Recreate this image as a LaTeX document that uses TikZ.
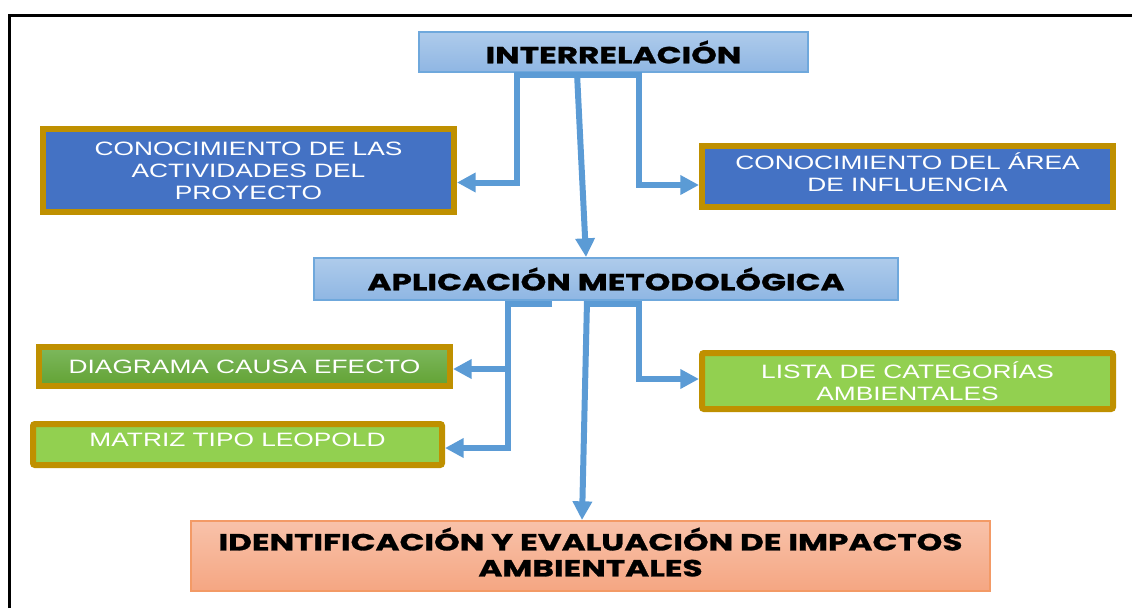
\documentclass[tikz,border=0pt]{standalone}
\usepackage{fontspec}
\usepackage{tikz}
\usepackage{xcolor}
\usetikzlibrary{arrows.meta,calc}

\setmainfont{Liberation Sans}
\newfontfamily\boxfont[FakeStretch=1.36]{Liberation Sans}
\newfontfamily\titlefont[FakeStretch=1.4,FakeBold=1.2]{Poppins}

\definecolor{titletop}{HTML}{AECBEB}
\definecolor{titlebottom}{HTML}{8FB6E3}
\definecolor{titleline}{HTML}{6FA8DC}
\definecolor{boxblue}{HTML}{4472C4}
\definecolor{boxgold}{HTML}{BF9000}
\definecolor{greentop}{HTML}{7DB85E}
\definecolor{greenbottom}{HTML}{62A233}
\definecolor{boxlime}{HTML}{92D050}
\definecolor{salmontop}{HTML}{F8C2AA}
\definecolor{salmonbottom}{HTML}{F5A682}
\definecolor{salmonline}{HTML}{F39A66}
\definecolor{arrowblue}{HTML}{5B9BD5}

\tikzset{
  titlebox/.style={draw=titleline, line width=1.5pt, top color=titletop, bottom color=titlebottom,
    inner sep=0pt, align=center, font=\titlefont\bfseries\fontsize{17.5}{19.5}\selectfont},
  goldbox/.style={draw=boxgold, line width=4.5pt, inner sep=0pt, align=center, text=white,
    font=\boxfont\fontsize{14.5}{16.5}\selectfont},
  conn/.style={draw=arrowblue, line width=4.5pt, -{Triangle[length=14pt,width=14pt]}}
}

\begin{document}
\begin{tikzpicture}[x=0.75pt,y=0.75pt,yscale=-1,xscale=1]
    \useasboundingbox (0,0) rectangle (1132,608);

    %Frame
    \draw[line width=2.25pt] (9,608) -- (9,15) -- (1132,15);

    % Title Node
    \node[titlebox, minimum width=291.75pt, minimum height=30pt] (inter) at (613.5,52) {INTERRELACIÓN};
    % Text Node
    \node[goldbox, fill=boxblue, minimum width=308.25pt, minimum height=62.25pt] (actv) at (248.5,170.5) {CONOCIMIENTO DE LAS\\ACTIVIDADES DEL\\PROYECTO};
    % Text Node
    \node[goldbox, fill=boxblue, minimum width=308.25pt, minimum height=45.75pt] (area) at (907.5,176.5) {CONOCIMIENTO DEL ÁREA\\DE INFLUENCIA\rule[-6pt]{0pt}{0pt}};
    % Title Node
    \node[titlebox, minimum width=438pt, minimum height=31.5pt] (aplic) at (606,279) {APLICACIÓN METODOLÓGICA};
    % Text Node
    \node[goldbox, top color=greentop, bottom color=greenbottom, minimum width=308.25pt, minimum height=29.25pt] (diag) at (244.5,366.5) {DIAGRAMA CAUSA EFECTO};
    % Text Node
    \node[goldbox, fill=boxlime, rounded corners=1.5pt, minimum width=306.75pt, minimum height=30.75pt] (matriz) at (237.5,444.5) {MATRIZ TIPO LEOPOLD\rule[-7pt]{0pt}{0pt}};
    % Text Node
    \node[goldbox, fill=boxlime, rounded corners=1.5pt, minimum width=308.25pt, minimum height=42pt] (lista) at (907.5,381) {LISTA DE CATEGORÍAS\\AMBIENTALES};
    % Title Node
    \node[titlebox, draw=salmonline, top color=salmontop, bottom color=salmonbottom, minimum width=599.25pt, minimum height=52.5pt] (ident) at (590.5,556) {IDENTIFICACIÓN Y EVALUACIÓN DE IMPACTOS\\AMBIENTALES\rule[-6pt]{0pt}{0pt}};

    %Connectors from INTERRELACIÓN
    \draw[conn] ($(inter.south west)+(159,0)$) -- ($(aplic.north west)+(273,0)$);
    \draw[conn] ($(inter.south west)+(163,2)$) -| ($(actv.east)+(60,12)$) -- ($(actv.east)+(0,12)$);
    \draw[conn] ($(inter.south west)+(161,2)$) -| ($(area.west)+(-60,8.5)$) -- ($(area.west)+(0,8.5)$);

    %Connectors from APLICACIÓN
    \draw[conn] ($(aplic.south west)+(274,0)$) -- ($(ident.north west)+(392,0)$);
    \draw[conn] ($(aplic.south west)+(239,3)$) -| ($(matriz.east)+(63,3.5)$) -- ($(matriz.east)+(0,3.5)$);
    \draw[conn] ($(diag.east)+(55,2.5)$) -- ($(diag.east)+(0,2.5)$);
    \draw[conn] ($(aplic.south west)+(272,3)$) -| ($(lista.west)+(-60,-2)$) -- ($(lista.west)+(0,-2)$);

\end{tikzpicture}
\end{document}
